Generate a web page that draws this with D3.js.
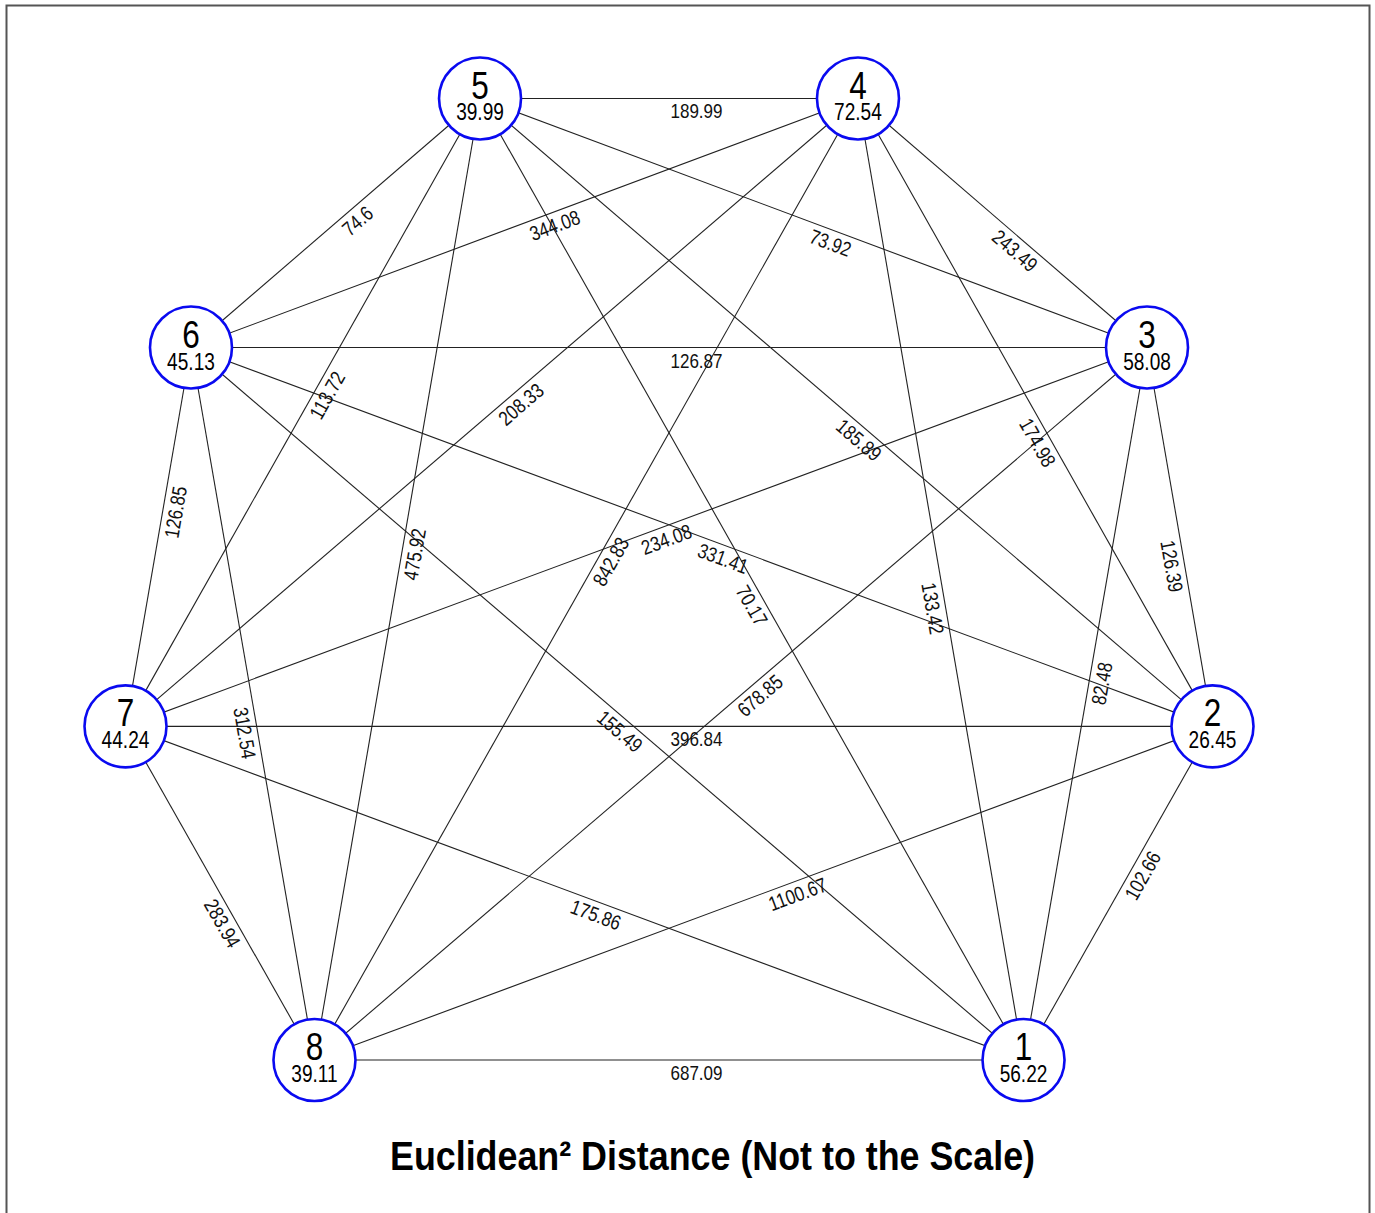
<!DOCTYPE html>
<html>
<head>
<meta charset="utf-8">
<script src="https://cdn.jsdelivr.net/npm/d3@7"></script>
<style>
  html, body { margin: 0; padding: 0; background: #fff; }
  svg { display: block; }
  text { font-family: "Liberation Sans Narrow", "Arial Narrow", "Liberation Sans", Arial, sans-serif; }
</style>
</head>
<body>
<svg id="chart" width="1375" height="1213"></svg>
<script>
// ---- Data ----
const nodeIds    = ["1", "2", "3", "4", "5", "6", "7", "8"];
const nodeValues = ["56.22", "26.45", "58.08", "72.54", "39.99", "45.13", "44.24", "39.11"];
// layout coordinates of the network (abstract units)
const nodeLayoutX = [0.6523, 1.0, 0.8795, 0.3477, -0.3477, -0.8795, -1.0, -0.6523];
const nodeLayoutY = [1.0, 0.653, 0.259, 0.0, 0.0, 0.259, 0.653, 1.0];

const edgeSource = ["1","1","1","1","1","1","1","2","2","2","2","2","2","3","3","3","3","3","4","4","4","4","5","5","5","6","6","7"];
const edgeTarget = ["2","3","4","5","6","7","8","3","4","5","6","7","8","4","5","6","7","8","5","6","7","8","6","7","8","7","8","8"];
const edgeValues = ["102.66","82.48","133.42","70.17","155.49","175.86","687.09",
                    "126.39","174.98","185.89","331.41","396.84","1100.67",
                    "243.49","73.92","126.87","234.08","678.85",
                    "189.99","344.08","208.33","842.83",
                    "74.6","113.72","475.92",
                    "126.85","312.54",
                    "283.94"];
const titleText = "Euclidean² Distance (Not to the Scale)";

// ---- Drawing ----
const svg = d3.select("#chart");
const x = d3.scaleLinear().domain([-1, 1]).range([125.5, 1212.5]);
const y = d3.scaleLinear().domain([0, 1]).range([98.5, 1060]);
const R = 41;
const NARROW = 0.83; // horizontal condensing to mimic a narrow face

// frame
svg.append("rect")
  .attr("x", 6.5).attr("y", 5.5)
  .attr("width", 1363).attr("height", 1230)
  .attr("fill", "none").attr("stroke", "#555").attr("stroke-width", 2);

const nodes = nodeIds.map((id, i) => ({ id, value: nodeValues[i], px: x(nodeLayoutX[i]), py: y(nodeLayoutY[i]) }));
const byId = new Map(nodes.map(n => [n.id, n]));
const edges = edgeSource.map((s, i) => ({ s: byId.get(s), t: byId.get(edgeTarget[i]), value: edgeValues[i] }));

const gEdges = svg.append("g");
gEdges.selectAll("line").data(edges).join("line")
  .attr("x1", d => d.s.px).attr("y1", d => d.s.py)
  .attr("x2", d => d.t.px).attr("y2", d => d.t.py)
  .attr("stroke", "#222").attr("stroke-width", 1.1);

gEdges.selectAll("text").data(edges).join("text")
  .attr("transform", d => {
    let a = d.s, b = d.t;
    if (b.px < a.px) { const tmp = a; a = b; b = tmp; }
    const ang = Math.atan2(b.py - a.py, b.px - a.px) * 180 / Math.PI;
    const mx = (a.px + b.px) / 2, my = (a.py + b.py) / 2;
    return `translate(${mx},${my}) rotate(${ang}) scale(${NARROW},1)`;
  })
  .attr("x", 1.5 / NARROW).attr("y", 20)
  .attr("text-anchor", "start")
  .attr("font-size", 20.5)
  .attr("fill", "#111")
  .text(d => d.value);

const gNodes = svg.append("g").selectAll("g").data(nodes).join("g")
  .attr("transform", d => `translate(${d.px},${d.py})`);
gNodes.append("circle").attr("r", R)
  .attr("fill", "#fff").attr("stroke", "#0a0af0").attr("stroke-width", 2.6);
gNodes.append("text").attr("text-anchor", "middle").attr("y", 0)
  .attr("transform", `scale(${NARROW},1)`)
  .attr("font-size", 38).attr("fill", "#000").text(d => d.id);
gNodes.append("text").attr("text-anchor", "middle").attr("y", 22)
  .attr("transform", `scale(${NARROW},1)`)
  .attr("font-size", 23).attr("fill", "#000").text(d => d.value);

svg.append("text")
  .attr("x", 712.5).attr("y", 1170)
  .attr("text-anchor", "middle")
  .attr("font-size", 41).attr("font-weight", "bold").attr("fill", "#000")
  .attr("textLength", 645).attr("lengthAdjust", "spacingAndGlyphs")
  .text(titleText);
</script>
</body>
</html>
